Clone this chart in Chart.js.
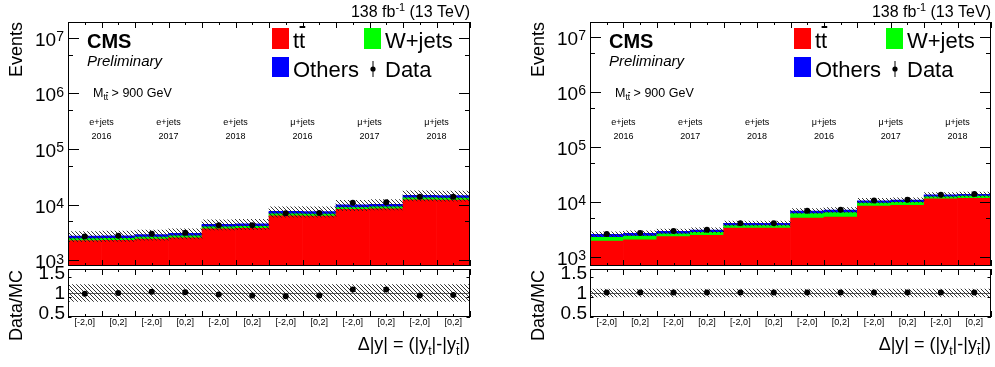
<!DOCTYPE html>
<html>
<head>
<meta charset="utf-8">
<script src="https://cdn.jsdelivr.net/npm/chart.js@4.4.0/dist/chart.umd.min.js"></script>
<style>
html, body { margin: 0; padding: 0; background: #fff; }
#wrap { position: relative; width: 995px; height: 367px; }
canvas { position: absolute; left: 0; top: 0; }
</style>
</head>
<body>
<div id="wrap">
  <canvas id="mainL" width="995" height="367"></canvas>
  <canvas id="ratioL" width="995" height="367"></canvas>
  <canvas id="mainR" width="995" height="367"></canvas>
  <canvas id="ratioR" width="995" height="367"></canvas>
</div>
<script>
// bins: [-2,0] / [0,2] for each channel + year
const binLabels = ['[-2,0]', '[0,2]', '[-2,0]', '[0,2]', '[-2,0]', '[0,2]',
                   '[-2,0]', '[0,2]', '[-2,0]', '[0,2]', '[-2,0]', '[0,2]'];
const channelLabels = ['e+jets', 'e+jets', 'e+jets', 'μ+jets', 'μ+jets', 'μ+jets'];
const yearLabels = ['2016', '2017', '2018', '2016', '2017', '2018'];

// left panel
const ttbarL = [2240, 2265, 2385, 2510, 3650, 3710, 6240, 6210, 8150, 8375, 12135, 12025];
const wjetsL = [190, 190, 200, 210, 305, 315, 525, 525, 685, 705, 1020, 1015];
const othersL = [270, 275, 290, 305, 440, 445, 750, 750, 980, 1010, 1465, 1450];
const dataL = [2655, 2730, 2970, 3100, 4210, 4210, 6950, 7050, 10720, 11020, 13770, 13770];
const ratioL = [0.98, 1.00, 1.03, 1.02, 0.96, 0.94, 0.92, 0.94, 1.09, 1.09, 0.94, 0.95];
const relUncL = 0.21;

// right panel
const ttbarR = [1930, 2040, 2320, 2450, 3320, 3330, 5030, 5250, 8360, 8610, 11300, 11600];
const wjetsR = [330, 340, 300, 320, 370, 370, 1050, 1090, 1150, 1180, 1000, 1030];
const othersR = [310, 300, 280, 290, 360, 360, 720, 750, 940, 970, 1000, 1020];
const dataR = [2585, 2694, 2930, 3095, 4090, 4090, 6860, 7160, 10570, 10870, 13400, 13770];
const ratioR = [1.01, 1.01, 1.01, 1.01, 1.01, 1.01, 1.01, 1.01, 1.01, 1.01, 1.01, 1.01];
const relUncR = 0.10;

const FONT = '"Liberation Sans", Arial, Helvetica, sans-serif';

function makeHatch() {
  const c = document.createElement('canvas');
  c.width = 4; c.height = 4;
  const g = c.getContext('2d');
  g.strokeStyle = 'rgba(30,30,30,0.9)';
  g.lineWidth = 1;
  g.beginPath();
  for (const k of [-4, 0, 4]) { g.moveTo(k, 0); g.lineTo(k + 4, 4); }
  g.stroke();
  return document.getElementById('mainL').getContext('2d').createPattern(c, 'repeat');
}
const hatch = makeHatch();

// text with sub/superscripts: parts = [{t, m: 'n'|'sup'|'sub', bar, fs, dy}]
function rich(ctx, parts, x, y, size, style, align) {
  const seg = parts.map(p => {
    const fs = p.fs ? size * p.fs : (p.m === 'n' || !p.m ? size : size * 0.68);
    ctx.font = `${style} ${fs}px ${FONT}`;
    return Object.assign({}, p, { size: fs, w: ctx.measureText(p.t).width });
  });
  const total = seg.reduce((s, p) => s + p.w, 0);
  let cx = align === 'right' ? x - total : align === 'center' ? x - total / 2 : x;
  ctx.textAlign = 'left';
  ctx.textBaseline = 'alphabetic';
  for (const p of seg) {
    ctx.font = `${style} ${p.size}px ${FONT}`;
    const dy = p.dy !== undefined ? p.dy : (p.m === 'sup' ? -size * 0.42 : p.m === 'sub' ? size * 0.3 : 0);
    ctx.fillText(p.t, cx, y + dy);
    if (p.bar) {
      // overline on the last character (anti-top)
      const lw = ctx.measureText(p.t.slice(-1)).width;
      const th = Math.max(1, Math.round(p.size * 0.07));
      ctx.fillRect(cx + p.w - lw + 0.5, Math.round(y + dy - p.size * 1.0), lw - 0.5, th);
    }
    cx += p.w;
  }
  return total;
}

function drawTicks(chart, log) {
  const { ctx, chartArea: a, scales } = chart;
  const x = scales.x, y = scales.y;
  ctx.save();
  ctx.strokeStyle = '#000';
  ctx.lineWidth = 1;
  ctx.beginPath();
  const n = chart.data.labels.length;
  for (let i = 0; i <= 2 * n; i++) {
    const px = Math.round(x.getPixelForValue(i / 2 - 0.5)) + 0.5;
    const len = i % 2 === 0 ? 6 : 3;
    ctx.moveTo(px, a.bottom); ctx.lineTo(px, a.bottom - len);
    ctx.moveTo(px, a.top); ctx.lineTo(px, a.top + len);
  }
  for (const t of y.ticks) {
    const v = t.value;
    if (v < y.min - 1e-9 || v > y.max + 1e-9) continue;
    let major;
    if (log) {
      const m = v / Math.pow(10, Math.floor(Math.log10(v) + 1e-9));
      if (Math.abs(m - Math.round(m)) > 1e-6) continue;
      major = Math.abs(m - 1) < 1e-6;
    } else {
      major = Math.abs(v * 2 - Math.round(v * 2)) < 1e-6;
    }
    const len = log ? (major ? 11 : 5) : (major ? 7 : 3.5);
    const py = Math.round(y.getPixelForValue(v)) + 0.5;
    ctx.moveTo(a.left, py); ctx.lineTo(a.left + len, py);
    ctx.moveTo(a.right, py); ctx.lineTo(a.right - len, py);
  }
  ctx.stroke();
  ctx.strokeRect(a.left + 0.5, a.top + 0.5, a.right - a.left - 1, a.bottom - a.top - 1);
  ctx.restore();
}

const mainDecor = {
  id: 'mainDecor',
  afterDatasetsDraw(chart) { drawTicks(chart, true); },
  afterDraw(chart) {
    const { ctx, chartArea: a, scales } = chart;
    const L = a.left;
    ctx.save();
    ctx.fillStyle = '#000';
    // lumi
    rich(ctx, [{ t: '138 fb' }, { t: '-1', m: 'sup', dy: -6 }, { t: ' (13 TeV)' }], a.right, 17, 16, '', 'right');
    // CMS / Preliminary
    ctx.font = `bold 20px ${FONT}`;
    ctx.textAlign = 'left';
    ctx.fillText('CMS', L + 19, 47.5);
    ctx.font = `italic 15px ${FONT}`;
    ctx.fillText('Preliminary', L + 19, 66);
    // mass cut
    rich(ctx, [{ t: 'M' }, { t: 'tt', m: 'sub', bar: true }, { t: ' > 900 GeV' }], L + 25, 96.5, 12.5, '', 'left');
    // channel / year labels
    ctx.font = `9px ${FONT}`;
    ctx.textAlign = 'center';
    for (let k = 0; k < channelLabels.length; k++) {
      const cx = (scales.x.getPixelForValue(2 * k) + scales.x.getPixelForValue(2 * k + 1)) / 2;
      ctx.fillText(channelLabels[k], cx, 125);
      ctx.fillText(yearLabels[k], cx, 139);
    }
    // legend
    const boxes = [
      { c: '#ff0000', x: L + 204, y: 28, h: 21 },
      { c: '#00ff00', x: L + 296, y: 28, h: 21 },
      { c: '#0000ff', x: L + 204, y: 57, h: 20 }
    ];
    for (const b of boxes) {
      ctx.fillStyle = b.c;
      ctx.fillRect(b.x, b.y, 17, b.h);
    }
    ctx.fillStyle = '#000';
    rich(ctx, [{ t: 'tt', bar: true }], L + 225, 48, 22, '', 'left');
    ctx.font = `22px ${FONT}`;
    ctx.textAlign = 'left';
    ctx.fillText('W+jets', L + 317, 48);
    ctx.fillText('Others', L + 225, 77);
    ctx.fillText('Data', L + 317, 77);
    ctx.fillRect(L + 304.5, 61, 1, 16);
    ctx.beginPath();
    ctx.arc(L + 305, 69, 2.6, 0, Math.PI * 2);
    ctx.fill();
    // y title
    ctx.save();
    ctx.translate(L - 46, a.top);
    ctx.rotate(-Math.PI / 2);
    ctx.font = `18px ${FONT}`;
    ctx.textAlign = 'right';
    ctx.fillText('Events', 0, 0);
    ctx.restore();
    // y tick labels
    const y = scales.y;
    for (const t of y.ticks) {
      const e = Math.log10(t.value);
      if (Math.abs(e - Math.round(e)) > 1e-6) continue;
      const py = y.getPixelForValue(t.value);
      rich(ctx, [{ t: '10' }, { t: String(Math.round(e)), fs: 0.74, dy: -4.5 }], L - 4, py + 8, 19, '', 'right');
    }
    ctx.restore();
  }
};

const ratioDecor = {
  id: 'ratioDecor',
  beforeDatasetsDraw(chart) {
    const { ctx, chartArea: a, scales } = chart;
    const py = Math.round(scales.y.getPixelForValue(1)) + 0.5;
    ctx.save();
    ctx.strokeStyle = 'rgba(0,0,0,0.6)';
    ctx.lineWidth = 1;
    ctx.beginPath();
    ctx.moveTo(a.left, py); ctx.lineTo(a.right, py);
    ctx.stroke();
    ctx.restore();
  },
  afterDatasetsDraw(chart) { drawTicks(chart, false); },
  afterDraw(chart) {
    const { ctx, chartArea: a, scales } = chart;
    const L = a.left;
    ctx.save();
    ctx.fillStyle = '#000';
    // y title
    ctx.save();
    ctx.translate(L - 46, a.top + 1);
    ctx.rotate(-Math.PI / 2);
    ctx.font = `18px ${FONT}`;
    ctx.textAlign = 'right';
    ctx.fillText('Data/MC', 0, 0);
    ctx.restore();
    // y tick labels
    ctx.font = `19px ${FONT}`;
    ctx.textAlign = 'right';
    ctx.textBaseline = 'middle';
    for (const v of [0.5, 1, 1.5]) {
      ctx.fillText(String(v), L - 3, scales.y.getPixelForValue(v) + 1);
    }
    // bin labels
    ctx.font = `9px ${FONT}`;
    ctx.textAlign = 'center';
    ctx.textBaseline = 'middle';
    chart.data.labels.forEach((lab, i) => {
      ctx.fillText(lab, scales.x.getPixelForValue(i), a.bottom + 5.5);
    });
    // x title
    rich(ctx, [
      { t: 'Δ|y| = (|y' }, { t: 't', m: 'sub' }, { t: '|-|y' }, { t: 't', m: 'sub', bar: true }, { t: '|)' }
    ], a.right, 350, 18, '', 'right');
    ctx.restore();
  }
};

function mainChart(id, tt, wj, ot, data, unc, ymin, ymax, pad) {
  const total = tt.map((v, i) => v + wj[i] + ot[i]);
  const band = total.map(v => [v * (1 - unc), v * (1 + unc)]);
  return new Chart(document.getElementById(id), {
    type: 'bar',
    data: {
      labels: binLabels,
      datasets: [
        { type: 'line', label: 'Data', data: data, xAxisID: 'x2', yAxisID: 'y2', showLine: false,
          pointRadius: 3, pointBackgroundColor: '#000', pointBorderColor: '#000', pointBorderWidth: 0, order: 0 },
        { label: 'Uncertainty', data: band, xAxisID: 'x2', yAxisID: 'y2', backgroundColor: hatch, order: 1 },
        { label: 'tt', data: tt, backgroundColor: '#ff0000', order: 2 },
        { label: 'W+jets', data: wj, backgroundColor: '#00ff00', order: 2 },
        { label: 'Others', data: ot, backgroundColor: '#0000ff', order: 2 }
      ]
    },
    options: {
      responsive: false,
      animation: false,
      events: [],
      layout: { padding: pad },
      plugins: { legend: { display: false }, tooltip: { enabled: false } },
      datasets: { bar: { barPercentage: 1, categoryPercentage: 1, borderWidth: 0, grouped: false } },
      scales: {
        x: { display: false, stacked: true, offset: true },
        y: { display: false, type: 'logarithmic', stacked: true, min: ymin, max: ymax, bounds: 'data' },
        x2: { display: false, type: 'category', offset: true },
        y2: { display: false, type: 'logarithmic', min: ymin, max: ymax, bounds: 'data' }
      }
    },
    plugins: [mainDecor]
  });
}

function ratioChart(id, ratio, unc, pad) {
  const band = ratio.map(() => [1 - unc, 1 + unc]);
  return new Chart(document.getElementById(id), {
    type: 'bar',
    data: {
      labels: binLabels,
      datasets: [
        { type: 'line', label: 'Data/MC', data: ratio, showLine: false,
          pointRadius: 3, pointBackgroundColor: '#000', pointBorderColor: '#000', pointBorderWidth: 0, order: 0 },
        { label: 'Uncertainty', data: band, backgroundColor: hatch, order: 1 }
      ]
    },
    options: {
      responsive: false,
      animation: false,
      events: [],
      layout: { padding: pad },
      plugins: { legend: { display: false }, tooltip: { enabled: false } },
      datasets: { bar: { barPercentage: 1, categoryPercentage: 1, borderWidth: 0, grouped: false } },
      scales: {
        x: { display: false, offset: true },
        y: { display: false, min: 0.4, max: 1.6, bounds: 'data', ticks: { stepSize: 0.1 } }
      }
    },
    plugins: [ratioDecor]
  });
}

mainChart('mainL', ttbarL, wjetsL, othersL, dataL, relUncL, 780, 1.94e7,
  { left: 68, top: 22, right: 525, bottom: 101 });
ratioChart('ratioL', ratioL, relUncL, { left: 68, top: 269, right: 525, bottom: 50 });
mainChart('mainR', ttbarR, wjetsR, othersR, dataR, relUncR, 680, 1.85e7,
  { left: 590, top: 22, right: 3, bottom: 101 });
ratioChart('ratioR', ratioR, relUncR, { left: 590, top: 269, right: 3, bottom: 50 });
</script>
</body>
</html>
